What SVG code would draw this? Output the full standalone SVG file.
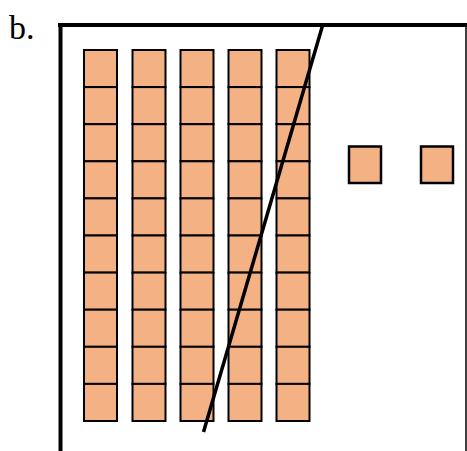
<svg xmlns="http://www.w3.org/2000/svg" width="467" height="451" viewBox="0 0 467 451">
<style>
.c{fill:#F4B183;stroke:#000;stroke-width:2}
.s{fill:#F4B183;stroke:#000;stroke-width:2.5}
</style>
<defs>
<g id="col">
<rect class="c" x="0" y="0" width="33" height="37.1"/>
<rect class="c" x="0" y="37.1" width="33" height="37.1"/>
<rect class="c" x="0" y="74.2" width="33" height="37.1"/>
<rect class="c" x="0" y="111.3" width="33" height="37.1"/>
<rect class="c" x="0" y="148.4" width="33" height="37.1"/>
<rect class="c" x="0" y="185.5" width="33" height="37.1"/>
<rect class="c" x="0" y="222.6" width="33" height="37.1"/>
<rect class="c" x="0" y="259.7" width="33" height="37.1"/>
<rect class="c" x="0" y="296.8" width="33" height="37.1"/>
<rect class="c" x="0" y="333.9" width="33" height="37.1"/>
</g>
</defs>
<rect width="467" height="451" fill="#fff"/>
<text x="9" y="39" font-family="Liberation Serif, serif" font-size="34">b.</text>
<g id="frame" fill="none" stroke="#000">
<line x1="58" y1="25" x2="467" y2="25" stroke-width="4"/>
<line x1="60.5" y1="23" x2="60.5" y2="451" stroke-width="4"/>
<line x1="466" y1="25" x2="466" y2="451" stroke-width="1.5"/>
</g>
<g id="col1"><use href="#col" x="84" y="50"/></g>
<g id="col2"><use href="#col" x="132.5" y="50"/></g>
<g id="col3"><use href="#col" x="180.5" y="50"/></g>
<g id="col4"><use href="#col" x="228.5" y="50"/></g>
<g id="col5"><use href="#col" x="276.5" y="50"/></g>
<g id="unit1"><rect class="s" x="349" y="146.5" width="32" height="36.5"/></g>
<g id="unit2"><rect class="s" x="421" y="146.5" width="32" height="36.5"/></g>
<g id="connectors">
<line x1="323" y1="24" x2="203.5" y2="432" stroke="#000" stroke-width="3.5"/>
</g>
</svg>
